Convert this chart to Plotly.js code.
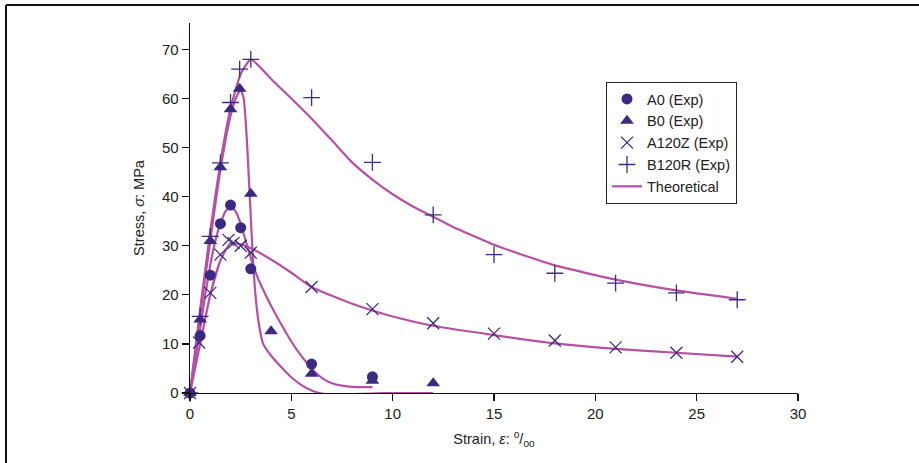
<!DOCTYPE html>
<html>
<head>
<meta charset="utf-8">
<script src="https://cdn.plot.ly/plotly-3.0.1.min.js"></script>
<style>
  html, body { margin: 0; padding: 0; background: #fff; }
  #chart { width: 919px; height: 463px; }
</style>
</head>
<body>
<div id="chart"></div>
<script>
// ---- Experimental data (strain ‰, stress MPa) ----
const a0Strain   = [0, 0.5, 1, 1.5, 2, 2.5, 3, 6, 9];
const a0Stress   = [0, 11.7, 24, 34.5, 38.3, 33.7, 25.3, 5.9, 3.3];

const b0Strain   = [0, 0.5, 1, 1.5, 2, 2.45, 3, 4, 6, 9, 12];
const b0Stress   = [0, 15, 31, 46, 57.8, 62, 40.6, 12.6, 3.9, 2.5, 2.0];

const a120zStrain = [0, 0.45, 1, 1.5, 1.9, 2.15, 2.5, 3, 6, 9, 12, 15, 18, 21, 24, 27];
const a120zStress = [0, 10.3, 20.4, 28.2, 31.2, 30.6, 30.0, 28.6, 21.6, 17.1, 14.2, 12.1, 10.7, 9.3, 8.2, 7.4];

const b120rStrain = [0, 0.5, 1, 1.5, 2, 2.45, 3, 6, 9, 12, 15, 18, 21, 24, 27];
const b120rStress = [0, 15.6, 31.9, 46.9, 59.2, 66, 68, 60.2, 47, 36.3, 28.2, 24.4, 22.4, 20.4, 19.0];

// ---- Theoretical curves ----
const thA0Strain = [0, 0.25, 0.5, 0.75, 1, 1.25, 1.5, 1.75, 2, 2.25, 2.5, 2.75, 3, 3.25, 3.5, 4, 4.5, 5, 5.5, 6, 6.5, 7, 7.5, 8, 9];
const thA0Stress = [0, 6.5, 13, 20, 26, 31, 34.5, 37, 38, 37, 34.5, 31, 27.5, 24.5, 22, 17.8, 14, 10.5, 7.5, 5, 3.1, 2, 1.5, 1.25, 1.2];

const thB0Strain = [0, 0.25, 0.5, 0.75, 1, 1.25, 1.5, 1.75, 2, 2.25, 2.5, 2.65, 2.8, 2.95, 3.07, 3.23, 3.4, 3.61, 4, 4.5, 5, 5.5, 6, 6.5, 7, 8, 9, 10, 12];
const thB0Stress = [0, 8, 15.5, 23.5, 31, 38.5, 45.5, 51.5, 56.5, 60, 61.8, 60, 52, 40, 30, 20, 14, 10, 7.6, 5.3, 3.2, 1.6, 0.5, -0.1, -0.3, -0.2, -0.1, 0, 0];

const thA120zStrain = [0, 0.25, 0.5, 1, 1.5, 2, 2.5, 3, 4, 5, 6, 7, 8, 9, 10, 12, 15, 18, 21, 24, 27];
const thA120zStress = [0, 5, 10, 20, 27, 30.5, 30.3, 29.5, 27.2, 24.5, 21.6, 19.8, 18.2, 16.8, 15.6, 13.7, 11.8, 10.1, 9.0, 8.2, 7.4];

const thB120rStrain = [0, 0.25, 0.5, 0.75, 1, 1.5, 2, 2.5, 3, 4, 5, 6, 7, 8, 9, 10, 11, 12, 13, 14, 15, 16.8, 18, 21, 24, 27];
const thB120rStress = [0, 8.5, 17, 25, 33, 47, 58, 65, 68, 64, 60, 55.9, 51.5, 47, 43.5, 40.5, 38, 35.9, 33.8, 32, 30.2, 27.6, 26, 23.1, 20.9, 19.2];

// ---- Axis ticks ----
const xTicks = [0, 5, 10, 15, 20, 25, 30];
const yTicks = [0, 10, 20, 30, 40, 50, 60, 70];

const markColor = '#3c2a82';
const lineColor = '#b550a5';
const font = 'Liberation Sans, Arial, Helvetica, sans-serif';

function theo(x, y, show) {
  return {
    x: x, y: y, type: 'scatter', mode: 'lines',
    name: 'Theoretical', showlegend: show, legendrank: 5,
    line: { color: lineColor, width: 2.2, shape: 'spline', smoothing: 0.5 },
    cliponaxis: false, hoverinfo: 'skip'
  };
}
function exp(x, y, name, symbol, size, rank) {
  const thin = symbol.indexOf('thin') >= 0;
  return {
    x: x, y: y, type: 'scatter', mode: 'markers', name: name, legendrank: rank,
    cliponaxis: false,
    marker: thin
      ? { symbol: symbol, size: size, color: markColor, line: { color: markColor, width: 1.3 } }
      : { symbol: symbol, size: size, color: markColor, line: { width: 0 } }
  };
}

const traces = [
  theo(thA0Strain, thA0Stress, false),
  theo(thB0Strain, thB0Stress, false),
  theo(thA120zStrain, thA120zStress, false),
  theo(thB120rStrain, thB120rStress, true),
  exp(a0Strain, a0Stress, 'A0 (Exp)', 'circle', 11, 1),
  exp(b0Strain, b0Stress, 'B0 (Exp)', 'triangle-up', 12, 2),
  exp(a120zStrain, a120zStress, 'A120Z (Exp)', 'x-thin-open', 12, 3),
  exp(b120rStrain, b120rStress, 'B120R (Exp)', 'cross-thin-open', 12, 4)
];

const M = { l: 190, r: 121, t: 23, b: 70 };
const W = 919, H = 463;
const pw = W - M.l - M.r, ph = H - M.t - M.b;
const px = p => (p - M.l) / pw;
const py = p => 1 - (p - M.t) / ph;

const layout = {
  width: W, height: H,
  margin: M,
  paper_bgcolor: '#fff', plot_bgcolor: '#fff',
  font: { family: font, size: 15, color: '#222' },
  showlegend: true,
  xaxis: {
    range: [0, 30], tickvals: xTicks, ticktext: xTicks.map(String),
    showline: true, linecolor: '#111', linewidth: 1.3, mirror: false,
    ticks: 'outside', ticklen: 7, tickwidth: 1.2, tickcolor: '#111',
    showgrid: false, zeroline: false,
    tickfont: { family: font, size: 15, color: '#222' },
    title: { text: 'Strain, <i>ε</i>: <sup>o</sup>/<sub>oo</sub>', font: { family: font, size: 14.5, color: '#222' }, standoff: 12 }
  },
  yaxis: {
    range: [0, 75.4], tickvals: yTicks, ticktext: yTicks.map(String),
    showline: true, linecolor: '#111', linewidth: 1.3, mirror: false,
    ticks: 'outside', ticklen: 7, tickwidth: 1.2, tickcolor: '#111',
    showgrid: false, zeroline: false,
    tickfont: { family: font, size: 15, color: '#222' },
    title: { text: 'Stress, <i>σ</i>: MPa', font: { family: font, size: 14.5, color: '#222' }, standoff: 14 }
  },
  legend: {
    x: px(606), y: py(82), xanchor: 'left', yanchor: 'top',
    bgcolor: '#fff', bordercolor: '#222', borderwidth: 1,
    font: { family: font, size: 14.5, color: '#222' },
    itemwidth: 30, tracegroupgap: 0
  },
  shapes: [
    { type: 'line', xref: 'paper', yref: 'paper', x0: px(6), x1: px(925), y0: py(5), y1: py(5), line: { color: '#111', width: 2 } },
    { type: 'line', xref: 'paper', yref: 'paper', x0: px(6), x1: px(6), y0: py(5), y1: py(470), line: { color: '#111', width: 2 } }
  ]
};

Plotly.newPlot('chart', traces, layout, { displayModeBar: false, staticPlot: true });
</script>
</body>
</html>
